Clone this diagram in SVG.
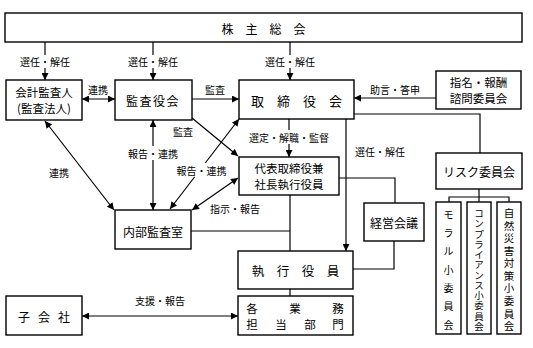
<svg xmlns="http://www.w3.org/2000/svg" width="533" height="348" viewBox="0 0 533 348">
<style>
  .box { fill: #fff; stroke: #000; stroke-width: 1.4; }
  .ln { fill: none; stroke: #000; stroke-width: 1.2; }
  .t { font-family: "Noto Sans CJK JP", "Noto Sans", sans-serif; fill: #000; text-anchor: middle; dominant-baseline: central; }
  .b { font-size: 12px; }
  .b2 { font-size: 11.5px; }
  .lb { font-size: 10px; }
  .v { font-size: 10px; }
  .bg { fill: #fff; stroke: none; }
</style>
<defs>
  <marker id="ah" viewBox="0 0 10 10" refX="10" refY="5" markerWidth="8" markerHeight="7" markerUnits="userSpaceOnUse" orient="auto-start-reverse">
    <path d="M0,0 L10,5 L0,10 z" fill="#000"/>
  </marker>
</defs>
<rect width="533" height="348" fill="#fff"/>

<g id="connectors">
  <line class="ln" x1="45" y1="42" x2="45" y2="80" marker-end="url(#ah)"/>
  <line class="ln" x1="153" y1="42" x2="153" y2="80" marker-end="url(#ah)"/>
  <line class="ln" x1="290" y1="42" x2="290" y2="80" marker-end="url(#ah)"/>
  <line class="ln" x1="82" y1="99" x2="115" y2="99" marker-start="url(#ah)" marker-end="url(#ah)"/>
  <line class="ln" x1="192" y1="99" x2="239" y2="99" marker-end="url(#ah)"/>
  <line class="ln" x1="436" y1="98" x2="354" y2="98" marker-end="url(#ah)"/>
  <line class="ln" x1="289" y1="119" x2="289" y2="157" marker-end="url(#ah)"/>
  <line class="ln" x1="346" y1="119" x2="346" y2="251" marker-end="url(#ah)"/>
  <polyline class="ln" points="354,114 480,114 480,153"/>
  <line class="ln" x1="479" y1="189" x2="479" y2="197"/>
  <polyline class="ln" points="449,202 449,197 509,197 509,202"/>
  <line class="ln" x1="479" y1="197" x2="479" y2="202"/>
  <polyline class="ln" points="339,178 395,178 395,203"/>
  <polyline class="ln" points="394,241 394,269 353,269"/>
  <line class="ln" x1="290" y1="195" x2="290" y2="251"/>
  <line class="ln" x1="191" y1="231" x2="290" y2="231"/>
  <line class="ln" x1="290" y1="289" x2="290" y2="296"/>
  <line class="ln" x1="82" y1="316" x2="238" y2="316" marker-start="url(#ah)" marker-end="url(#ah)"/>
  <line class="ln" x1="45" y1="121" x2="114" y2="210" marker-start="url(#ah)" marker-end="url(#ah)"/>
  <line class="ln" x1="153" y1="120" x2="153" y2="210" marker-start="url(#ah)" marker-end="url(#ah)"/>
  <line class="ln" x1="170" y1="209" x2="239" y2="119" marker-start="url(#ah)" marker-end="url(#ah)"/>
  <line class="ln" x1="192" y1="118" x2="238" y2="156" marker-end="url(#ah)"/>
  <line class="ln" x1="192" y1="210" x2="238" y2="178" marker-start="url(#ah)" marker-end="url(#ah)"/>
</g>

<g id="labels">
  <rect class="bg" x="19" y="55" width="52" height="13"/>
  <text class="t lb" x="45" y="61">選任・解任</text>
  <rect class="bg" x="127" y="55" width="52" height="13"/>
  <text class="t lb" x="153" y="61">選任・解任</text>
  <rect class="bg" x="264" y="55" width="52" height="13"/>
  <text class="t lb" x="290" y="61">選任・解任</text>
  <text class="t lb" x="98" y="89">連携</text>
  <text class="t lb" x="215" y="89">監査</text>
  <text class="t lb" x="395" y="89">助言・答申</text>
  <rect class="bg" x="248" y="130" width="83" height="14"/>
  <text class="t lb" x="289" y="137">選定・解職・監督</text>
  <text class="t lb" x="380" y="151">選任・解任</text>
  <text class="t lb" x="183" y="131">監査</text>
  <text class="t lb" x="59" y="172">連携</text>
  <rect class="bg" x="127" y="146" width="52" height="14"/>
  <text class="t lb" x="153" y="153">報告・連携</text>
  <rect class="bg" x="175" y="163" width="53" height="14"/>
  <text class="t lb" x="201.5" y="170">報告・連携</text>
  <text class="t lb" x="235" y="208">指示・報告</text>
  <text class="t lb" x="160" y="300">支援・報告</text>
</g>

<g id="n-shareholders">
  <rect class="box" x="5" y="13" width="517" height="29"/>
  <text class="t b" x="263.5" y="28">株　主　総　会</text>
</g>
<g id="n-auditor">
  <rect class="box" x="6" y="80" width="76" height="40"/>
  <text class="t b2" x="44" y="92">会計監査人</text>
  <text class="t b2" x="44" y="108">(監査法人)</text>
</g>
<g id="n-audit-board">
  <rect class="box" x="115" y="80" width="77" height="40"/>
  <text class="t b" x="153" y="100" letter-spacing="1.5">監査役会</text>
</g>
<g id="n-board">
  <rect class="box" x="239" y="80" width="115" height="39"/>
  <text class="t" x="296.5" y="100" font-size="13">取　締　役　会</text>
</g>
<g id="n-nomination">
  <rect class="box" x="436" y="71" width="85" height="38"/>
  <text class="t b2" x="478.5" y="82">指名・報酬</text>
  <text class="t b2" x="478.5" y="98">諮問委員会</text>
</g>
<g id="n-ceo">
  <rect class="box" x="239" y="157" width="100" height="38"/>
  <text class="t b2" x="289" y="168">代表取締役兼</text>
  <text class="t b2" x="289" y="184">社長執行役員</text>
</g>
<g id="n-risk">
  <rect class="box" x="436" y="153" width="86" height="36"/>
  <text class="t b" x="479" y="171">リスク委員会</text>
</g>
<g id="n-management">
  <rect class="box" x="364" y="203" width="60" height="38"/>
  <text class="t b" x="394" y="222">経営会議</text>
</g>
<g id="n-internal-audit">
  <rect class="box" x="115" y="210" width="76" height="39"/>
  <text class="t b" x="153" y="231">内部監査室</text>
</g>
<g id="n-officers">
  <rect class="box" x="238" y="251" width="115" height="38"/>
  <text class="t" x="295.5" y="270" font-size="12.5">執　行　役　員</text>
</g>
<g id="n-departments">
  <rect class="box" x="238" y="296" width="115" height="39"/>
  <text class="t b2" x="252 295 338" y="308">各業務</text>
  <text class="t b2" x="252 281 310 338" y="324">担当部門</text>
</g>
<g id="n-subsidiary">
  <rect class="box" x="6" y="296" width="76" height="39"/>
  <text class="t b" x="24 44 64" y="316">子会社</text>
</g>
<g id="n-moral">
  <rect class="box" x="436" y="202" width="25" height="132"/>
  <text class="t v" x="448.5 448.5 448.5 448.5 448.5 448.5 448.5" y="214 232.3 250.7 269 287.3 305.7 324">モラル小委員会</text>
</g>
<g id="n-compliance">
  <rect class="box" x="467" y="202" width="24" height="132"/>
  <text class="t" font-size="9.5" x="479 479 479 479 479 479 479 479 479 479 479 479" y="213 223.3 233.5 243.8 254.1 264.4 274.6 284.9 295.2 305.4 315.7 326">コンプライアンス小委員会</text>
</g>
<g id="n-disaster">
  <rect class="box" x="497" y="202" width="24" height="132"/>
  <text class="t" font-size="10.5" x="509 509 509 509 509 509 509 509 509 509" y="212.5 225.1 237.6 250.2 262.7 275.3 287.9 300.4 313 325.5">自然災害対策小委員会</text>
</g>
</svg>
